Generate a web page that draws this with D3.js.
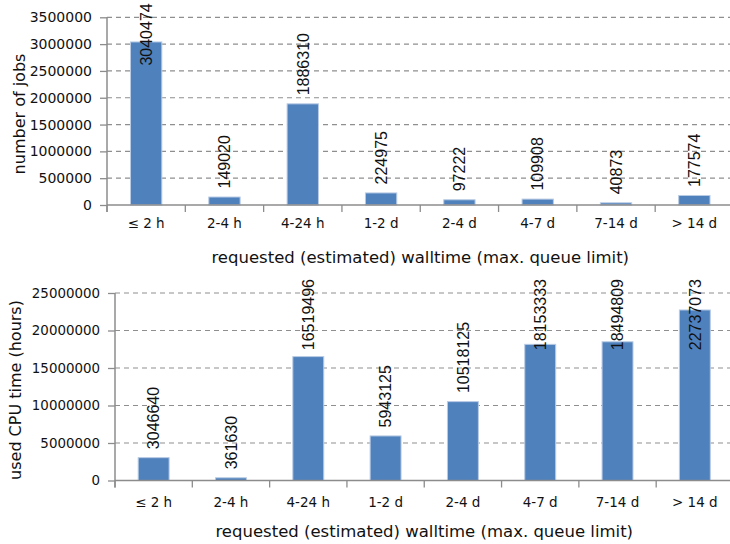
<!DOCTYPE html>
<html>
<head>
<meta charset="utf-8">
<script src="https://cdn.jsdelivr.net/npm/d3@7"></script>
<style>
  html, body { margin: 0; padding: 0; background: #fff; }
  svg { display: block; }
</style>
</head>
<body>
<svg id="chart" width="730" height="544"></svg>
<script>
// Walltime classes shared by both panels
const categories = ["≤ 2 h", "2-4 h", "4-24 h", "1-2 d", "2-4 d", "4-7 d", "7-14 d", "> 14 d"];

// Number of jobs per requested walltime class
const jobCounts = [3040474, 149020, 1886310, 224975, 97222, 109908, 40873, 177574];
const jobTicks = [0, 500000, 1000000, 1500000, 2000000, 2500000, 3000000, 3500000];

// Used CPU time (hours) per requested walltime class
const cpuHours = [3046640, 361630, 16519496, 5943125, 10518125, 18153333, 18494809, 22737073];
const cpuTicks = [0, 5000000, 10000000, 15000000, 20000000, 25000000];

const xTitle = "requested (estimated) walltime (max. queue limit)";

const svg = d3.select("#chart");
svg.append("rect").attr("width", 730).attr("height", 544).attr("fill", "#fff");

const BAR = "#4f81bd";
const AXIS = "#8c8c8c";
const GRID = "#8f8f8f";

function drawPanel(opt) {
  const g = svg.append("g");
  const x = d3.scaleBand().domain(categories).range([opt.left, opt.right]).padding(0);
  const y = d3.scaleLinear().domain([0, d3.max(opt.ticks)]).range([opt.bottom, opt.top]);

  // dashed horizontal gridlines (above zero)
  g.selectAll("line.grid").data(opt.ticks.filter(t => t > 0)).join("line")
    .attr("x1", opt.left).attr("x2", opt.right)
    .attr("y1", d => y(d)).attr("y2", d => y(d))
    .attr("stroke", GRID).attr("stroke-width", 1.2).attr("stroke-dasharray", "5,4");

  // y axis
  const yAxis = d3.axisLeft(y).tickValues(opt.ticks).tickSize(7).tickPadding(8)
    .tickFormat(d3.format("d"));
  const ya = g.append("g").attr("transform", `translate(${opt.left},0)`).call(yAxis);
  ya.select(".domain").remove();
  ya.selectAll(".tick line").attr("stroke", AXIS).attr("stroke-width", 1.3);
  ya.selectAll(".tick text").attr("fill", "#111")
    .style("font-family", "DejaVu Sans").style("font-size", opt.tickFont + "px");
  g.append("line")
    .attr("x1", opt.left).attr("x2", opt.left)
    .attr("y1", opt.top).attr("y2", opt.bottom + 7)
    .attr("stroke", AXIS).attr("stroke-width", 1.5);

  // bars
  const bw = x.bandwidth() * 0.4;
  g.selectAll("rect.bar").data(opt.values).join("rect")
    .attr("x", (d, i) => x(categories[i]) + (x.bandwidth() - bw) / 2)
    .attr("y", d => y(d))
    .attr("width", bw)
    .attr("height", d => opt.bottom - y(d))
    .attr("fill", BAR)
    .attr("stroke", "#b9cbe4").attr("stroke-width", 1);

  // x axis with category boundary ticks
  g.append("line")
    .attr("x1", opt.left).attr("x2", opt.right)
    .attr("y1", opt.bottom).attr("y2", opt.bottom)
    .attr("stroke", AXIS).attr("stroke-width", 1.5);
  const bounds = categories.map(c => x(c)).concat([opt.right]);
  g.selectAll("line.xt").data(bounds).join("line")
    .attr("x1", d => d).attr("x2", d => d)
    .attr("y1", opt.bottom).attr("y2", opt.bottom + 7)
    .attr("stroke", AXIS).attr("stroke-width", 1.3);
  g.selectAll("text.cat").data(categories).join("text")
    .attr("x", d => x(d) + x.bandwidth() / 2)
    .attr("y", opt.bottom + opt.catOffset)
    .attr("text-anchor", "middle").attr("dy", "0.35em")
    .style("font-family", "DejaVu Sans").style("font-size", opt.catFont + "px")
    .attr("fill", "#111")
    .text(d => d);

  // value labels, rotated, kept inside the panel's top edge
  const minTop = opt.top - 14;
  g.selectAll("text.val").data(opt.values).join("text")
    .attr("text-anchor", "start").attr("dy", "0.36em")
    .style("font-family", "Liberation Sans").style("font-size", "16px")
    .attr("fill", "#111")
    .text(d => d)
    .each(function (d, i) {
      const len = this.getComputedTextLength();
      const cx = x(categories[i]) + x.bandwidth() / 2;
      const yb = Math.max(y(d) - 8.5, minTop + len);
      d3.select(this).attr("transform", `translate(${cx},${yb}) rotate(-90)`);
    });

  // axis titles
  g.append("text")
    .attr("x", (opt.left + opt.right) / 2).attr("y", opt.bottom + opt.titleOffset)
    .attr("text-anchor", "middle").attr("dy", "0.35em")
    .style("font-family", "DejaVu Sans").style("font-size", "16.5px")
    .attr("fill", "#111")
    .text(xTitle);
  g.append("text")
    .attr("transform", `translate(${opt.yTitleX},${opt.yTitleY}) rotate(-90)`)
    .attr("text-anchor", "middle").attr("dy", "0.35em")
    .style("font-family", "DejaVu Sans").style("font-size", "16px")
    .attr("fill", "#111")
    .text(opt.yTitle);
}

drawPanel({
  values: jobCounts, ticks: jobTicks, yTitle: "number of jobs",
  left: 107, right: 733.5, top: 17.3, bottom: 205,
  tickFont: 14, catFont: 13.5, catOffset: 18, titleOffset: 52,
  yTitleX: 19, yTitleY: 114
});

drawPanel({
  values: cpuHours, ticks: cpuTicks, yTitle: "used CPU time (hours)",
  left: 115, right: 733.5, top: 293, bottom: 480.5,
  tickFont: 13.4, catFont: 13.5, catOffset: 22, titleOffset: 50.5,
  yTitleX: 15, yTitleY: 390
});
</script>
</body>
</html>
